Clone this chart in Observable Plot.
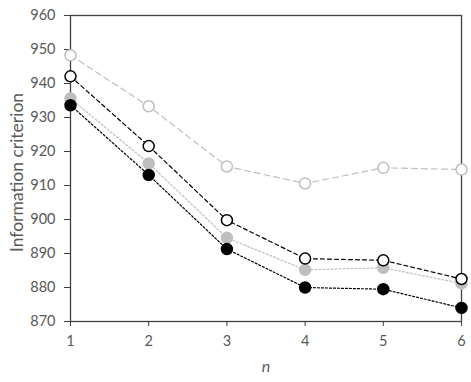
<!DOCTYPE html>
<html><head><meta charset="utf-8">
<script src="https://cdn.jsdelivr.net/npm/d3@7"></script>
<script src="https://cdn.jsdelivr.net/npm/@observablehq/plot@0.6"></script>
<style>body{margin:0;background:#fff}</style>
</head><body><div id="chart"></div>
<script>
const nValues = [1, 2, 3, 4, 5, 6];
const grayOpen   = [948.3, 933.3, 915.6, 910.6, 915.2, 914.7];
const blackOpen  = [942.1, 921.6, 899.8, 888.5, 888.0, 882.5];
const grayFilled = [935.6, 916.5, 894.6, 885.2, 885.8, 881.2];
const blackFilled= [933.6, 913.1, 891.3, 880.0, 879.5, 874.0];
const yTicks = [870, 880, 890, 900, 910, 920, 930, 940, 950, 960];

const seriesDefs = [
  {name: "grayOpen", values: grayOpen, color: "#bfbfbf", fill: "white", dash: "6,4"},
  {name: "grayFilled", values: grayFilled, color: "#bfbfbf", fill: "#bfbfbf", dash: "2,2"},
  {name: "blackOpen", values: blackOpen, color: "#000", fill: "white", dash: "4,3"},
  {name: "blackFilled", values: blackFilled, color: "#000", fill: "#000", dash: "2,2"}
];

const marks = [];
for (const s of seriesDefs) {
  const data = nValues.map((n, i) => ({n, v: s.values[i]}));
  marks.push(Plot.line(data, {x: "n", y: "v", stroke: s.color, strokeWidth: 1.2, strokeDasharray: s.dash}));
}
for (const s of seriesDefs) {
  const data = nValues.map((n, i) => ({n, v: s.values[i]}));
  marks.push(Plot.dot(data, {x: "n", y: "v", r: 5.5, stroke: s.color, fill: s.fill, strokeWidth: 1.5}));
}

const chart = Plot.plot({
  width: 471, height: 382,
  marginLeft: 70, marginRight: 10, marginTop: 15, marginBottom: 61,
  style: {fontFamily: "Lato, 'Open Sans', sans-serif", fontSize: "14.5px", color: "#595959", background: "white"},
  x: {domain: [1, 6]},
  y: {domain: [870, 960]},
  marks: [
    Plot.frame({stroke: "#404040", strokeWidth: 1.3}),
    Plot.axisY({ticks: yTicks, tickSize: 6, tickPadding: 9, label: null, stroke: "#404040", fill: "#595959"}),
    Plot.axisX({ticks: nValues, tickSize: 5, tickPadding: 9, label: null, tickFormat: d => String(d), stroke: "#404040", fill: "#595959"}),
    Plot.text(["Information criterion"], {frameAnchor: "left", textAnchor: "middle", dx: -53, dy: 4, rotate: -90, fill: "#595959", fontSize: 17.5}),
    Plot.text(["n"], {frameAnchor: "bottom", dy: 50, fill: "#595959", fontSize: 16, fontStyle: "italic"}),
    ...marks
  ]
});
document.getElementById("chart").append(chart);
</script>
</body></html>
